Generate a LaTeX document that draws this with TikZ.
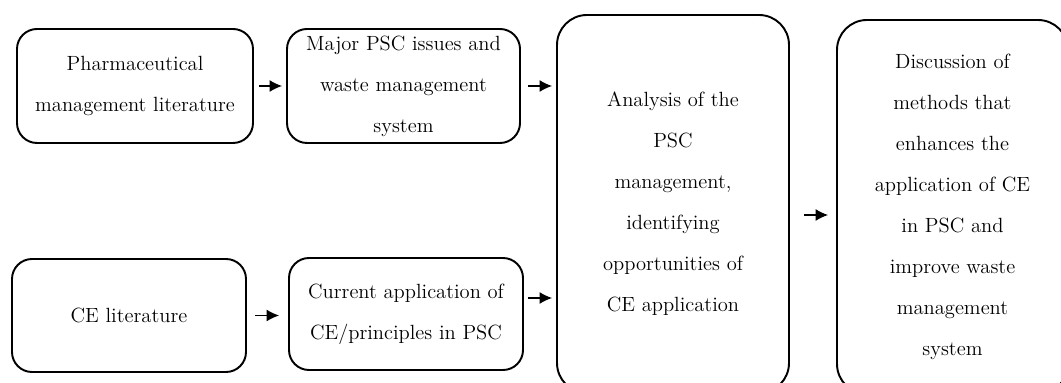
\documentclass[tikz,border=0pt]{standalone}
\usetikzlibrary{arrows.meta}

\begin{document}
\begin{tikzpicture}[
  box/.style={draw=black,line width=1.1pt,rounded corners=0.4cm,inner sep=0pt,align=center,
    font=\fontsize{11.7}{23.3}\selectfont},
  bigbox/.style={box,rounded corners=0.6cm},
  arr/.style={line width=0.7pt,-{Latex[length=2.5mm,width=2.4mm]}}]
\useasboundingbox (0,0) rectangle (21.22,-7.66);
\node[box,minimum width=4.72cm,minimum height=2.28cm] (pharma) at (2.70,-1.72) {Pharmaceutical\\management literature};
\node[box,minimum width=4.66cm,minimum height=2.28cm] (major) at (8.07,-1.72) {Major PSC issues and\\waste management\\system};
\node[box,minimum width=4.68cm,minimum height=2.26cm] (celit) at (2.58,-6.31) {CE literature};
\node[box,minimum width=4.68cm,minimum height=2.24cm] (current) at (8.12,-6.28) {Current application of\\CE/principles in PSC};
\node[bigbox,minimum width=4.64cm,minimum height=7.56cm] (analysis) at (13.46,-4.08) {Analysis of the\\PSC\\management,\\identifying\\opportunities of\\CE application};
\node[bigbox,minimum width=4.62cm,minimum height=7.48cm] (discuss) at (19.05,-4.14) {Discussion of\\methods that\\enhances the\\application of CE\\in PSC and\\improve waste\\management\\system};
\coordinate (curout) at ([yshift=0.32cm]current.east);
\coordinate (anaout) at ([yshift=-0.22cm]analysis.east);
\draw[arr,shorten <=0.1cm,shorten >=0.08cm] (pharma.east) -- (major.west);
\draw[arr,shorten <=0.14cm,shorten >=0.08cm] (major.east) -- (major.east -| analysis.west);
\draw[arr,shorten <=0.16cm,shorten >=0.18cm] (celit.east) -- (celit.east -| current.west);
\draw[arr,shorten <=0.08cm,shorten >=0.08cm] (curout) -- (curout -| analysis.west);
\draw[arr,shorten <=0.28cm,shorten >=0.16cm] (anaout) -- (anaout -| discuss.west);
\end{tikzpicture}
\end{document}
